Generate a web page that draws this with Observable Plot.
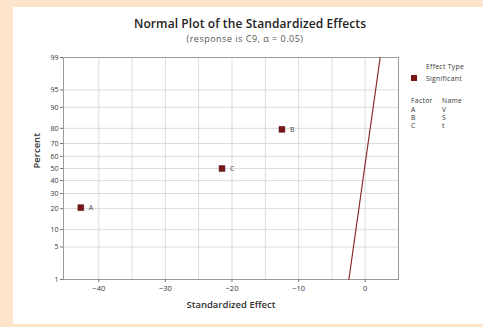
<!DOCTYPE html>
<html><head><meta charset="utf-8">
<script src="https://cdn.jsdelivr.net/npm/d3@7"></script>
<script src="https://cdn.jsdelivr.net/npm/@observablehq/plot@0.6"></script>
<style>
body{margin:0;background:#fde5cb;width:483px;height:327px;overflow:hidden;position:relative;font-family:"Open Sans",sans-serif;}
#panel{position:absolute;left:13px;top:7px;width:470px;height:317px;background:#fff;}
#chart{position:absolute;left:0;top:0;}
.t{position:absolute;color:#333;white-space:nowrap;line-height:8px;}
.lg{font-size:6.8px;letter-spacing:0.3px;}
</style></head><body>
<div id="panel"></div>
<div id="chart"></div>
<div class="t" style="left:0;width:500px;top:17px;line-height:14px;text-align:center;font-weight:600;font-size:12px;letter-spacing:0.1px;color:#222;">Normal Plot of the Standardized Effects</div>
<div class="t" style="left:0;width:490px;top:33px;line-height:11px;text-align:center;font-size:9px;letter-spacing:0.5px;color:#555;">(response is C9, α = 0.05)</div>
<div class="t lg" style="left:426px;top:63px;">Effect Type</div>
<div style="position:absolute;left:411px;top:75px;width:6px;height:6px;background:#7a1518;"></div>
<div class="t lg" style="left:426px;top:75px;">Significant</div>
<div class="t lg" style="left:411px;top:97px;">Factor</div>
<div class="t lg" style="left:442px;top:97px;">Name</div>
<div id="legrows"></div>
<script>
const factors = ["A", "B", "C"];
const names = ["V", "S", "t"];
const effects = [-42.7, -12.5, -21.5];
const percents = [20.6, 79.4, 50];
const fitX = [-2.45, 2.25];
const fitPct = [1, 99];
const yTicks = [1, 5, 10, 20, 30, 40, 50, 60, 70, 80, 90, 95, 99];
const xTicks = [-40, -30, -20, -10, 0];
const xGrid = [-40, -35, -30, -25, -20, -15, -10, -5, 0];

// inverse normal CDF (Acklam) for the probability-scale axis
function probit(p){
  const a=[-3.969683028665376e+01,2.209460984245205e+02,-2.759285104469687e+02,1.383577518672690e+02,-3.066479806614716e+01,2.506628277459239e+00];
  const b=[-5.447609879822406e+01,1.615858368580409e+02,-1.556989798598866e+02,6.680131188771972e+01,-1.328068155288572e+01];
  const c=[-7.784894002430293e-03,-3.223964580411365e-01,-2.400758277161838e+00,-2.549732539343734e+00,4.374664141464968e+00,2.938163982698783e+00];
  const d=[7.784695709041462e-03,3.224671290700398e-01,2.445134137142996e+00,3.754408661907416e+00];
  const pl=0.02425;
  let q,r;
  if(p<pl){q=Math.sqrt(-2*Math.log(p));return (((((c[0]*q+c[1])*q+c[2])*q+c[3])*q+c[4])*q+c[5])/((((d[0]*q+d[1])*q+d[2])*q+d[3])*q+1);}
  if(p<=1-pl){q=p-0.5;r=q*q;return (((((a[0]*r+a[1])*r+a[2])*r+a[3])*r+a[4])*r+a[5])*q/(((((b[0]*r+b[1])*r+b[2])*r+b[3])*r+b[4])*r+1);}
  q=Math.sqrt(-2*Math.log(1-p));return -(((((c[0]*q+c[1])*q+c[2])*q+c[3])*q+c[4])*q+c[5])/((((d[0]*q+d[1])*q+d[2])*q+d[3])*q+1);
}
const z = v => probit(v/100);

const pts = factors.map((f,i)=>({f, x:effects[i], y:z(percents[i])}));
const fit = fitX.map((x,i)=>({x, y:z(fitPct[i])}));
const yT = yTicks.map(z);
const lab = new Map(yTicks.map(t=>[z(t), String(t)]));

const chart = Plot.plot({
  width: 483, height: 327,
  marginLeft: 63, marginRight: 85, marginTop: 57, marginBottom: 48,
  style: {background: "transparent", fontFamily: "Open Sans, sans-serif"},
  x: {domain: [-45.3, 5]},
  y: {domain: [z(1), z(99)]},
  marks: [
    Plot.gridX(xGrid, {stroke: "#dcdcdc", strokeOpacity: 1}),
    Plot.gridY(yT, {stroke: "#dcdcdc", strokeOpacity: 1}),
    Plot.frame({stroke: "#9a9a9a"}),
    Plot.axisX(xTicks, {tickSize: 3, tickPadding: 3, fontSize: 7.5, fill: "#333", stroke: "#777", label: null, style: {letterSpacing: "0.6px"}}),
    Plot.axisY(yT, {tickSize: 3, tickPadding: 2, fontSize: 7, fill: "#333", stroke: "#777", tickFormat: d => lab.get(d), label: null}),
    Plot.line(fit, {x: "x", y: "y", stroke: "#8a2a30", strokeWidth: 1.2}),
    Plot.dot(pts, {x: "x", y: "y", symbol: "square", r: 3.3, fill: "#7a1518", stroke: "#4a0a0c", strokeWidth: 0.5}),
    Plot.text(pts, {x: "x", y: "y", text: "f", dx: 8, fontSize: 7, fill: "#445", textAnchor: "start"}),
    Plot.text(["Standardized Effect"], {frameAnchor: "bottom", dy: 28, fontSize: 9.5, fontWeight: 600, fill: "#333", style: {letterSpacing: "0.3px"}}),
    Plot.text(["Percent"], {frameAnchor: "left", dx: -27, rotate: -90, fontSize: 9.5, fontWeight: 600, fill: "#333", style: {letterSpacing: "0.3px"}})
  ]
});
document.getElementById("chart").appendChild(chart);

const rows = document.getElementById("legrows");
factors.forEach((f,i)=>{
  const top = 105.5 + i*8;
  rows.insertAdjacentHTML("beforeend",
    `<div class="t lg" style="left:411px;top:${top}px;">${f}</div>`+
    `<div class="t lg" style="left:442px;top:${top}px;">${names[i]}</div>`);
});
</script>
</body></html>
